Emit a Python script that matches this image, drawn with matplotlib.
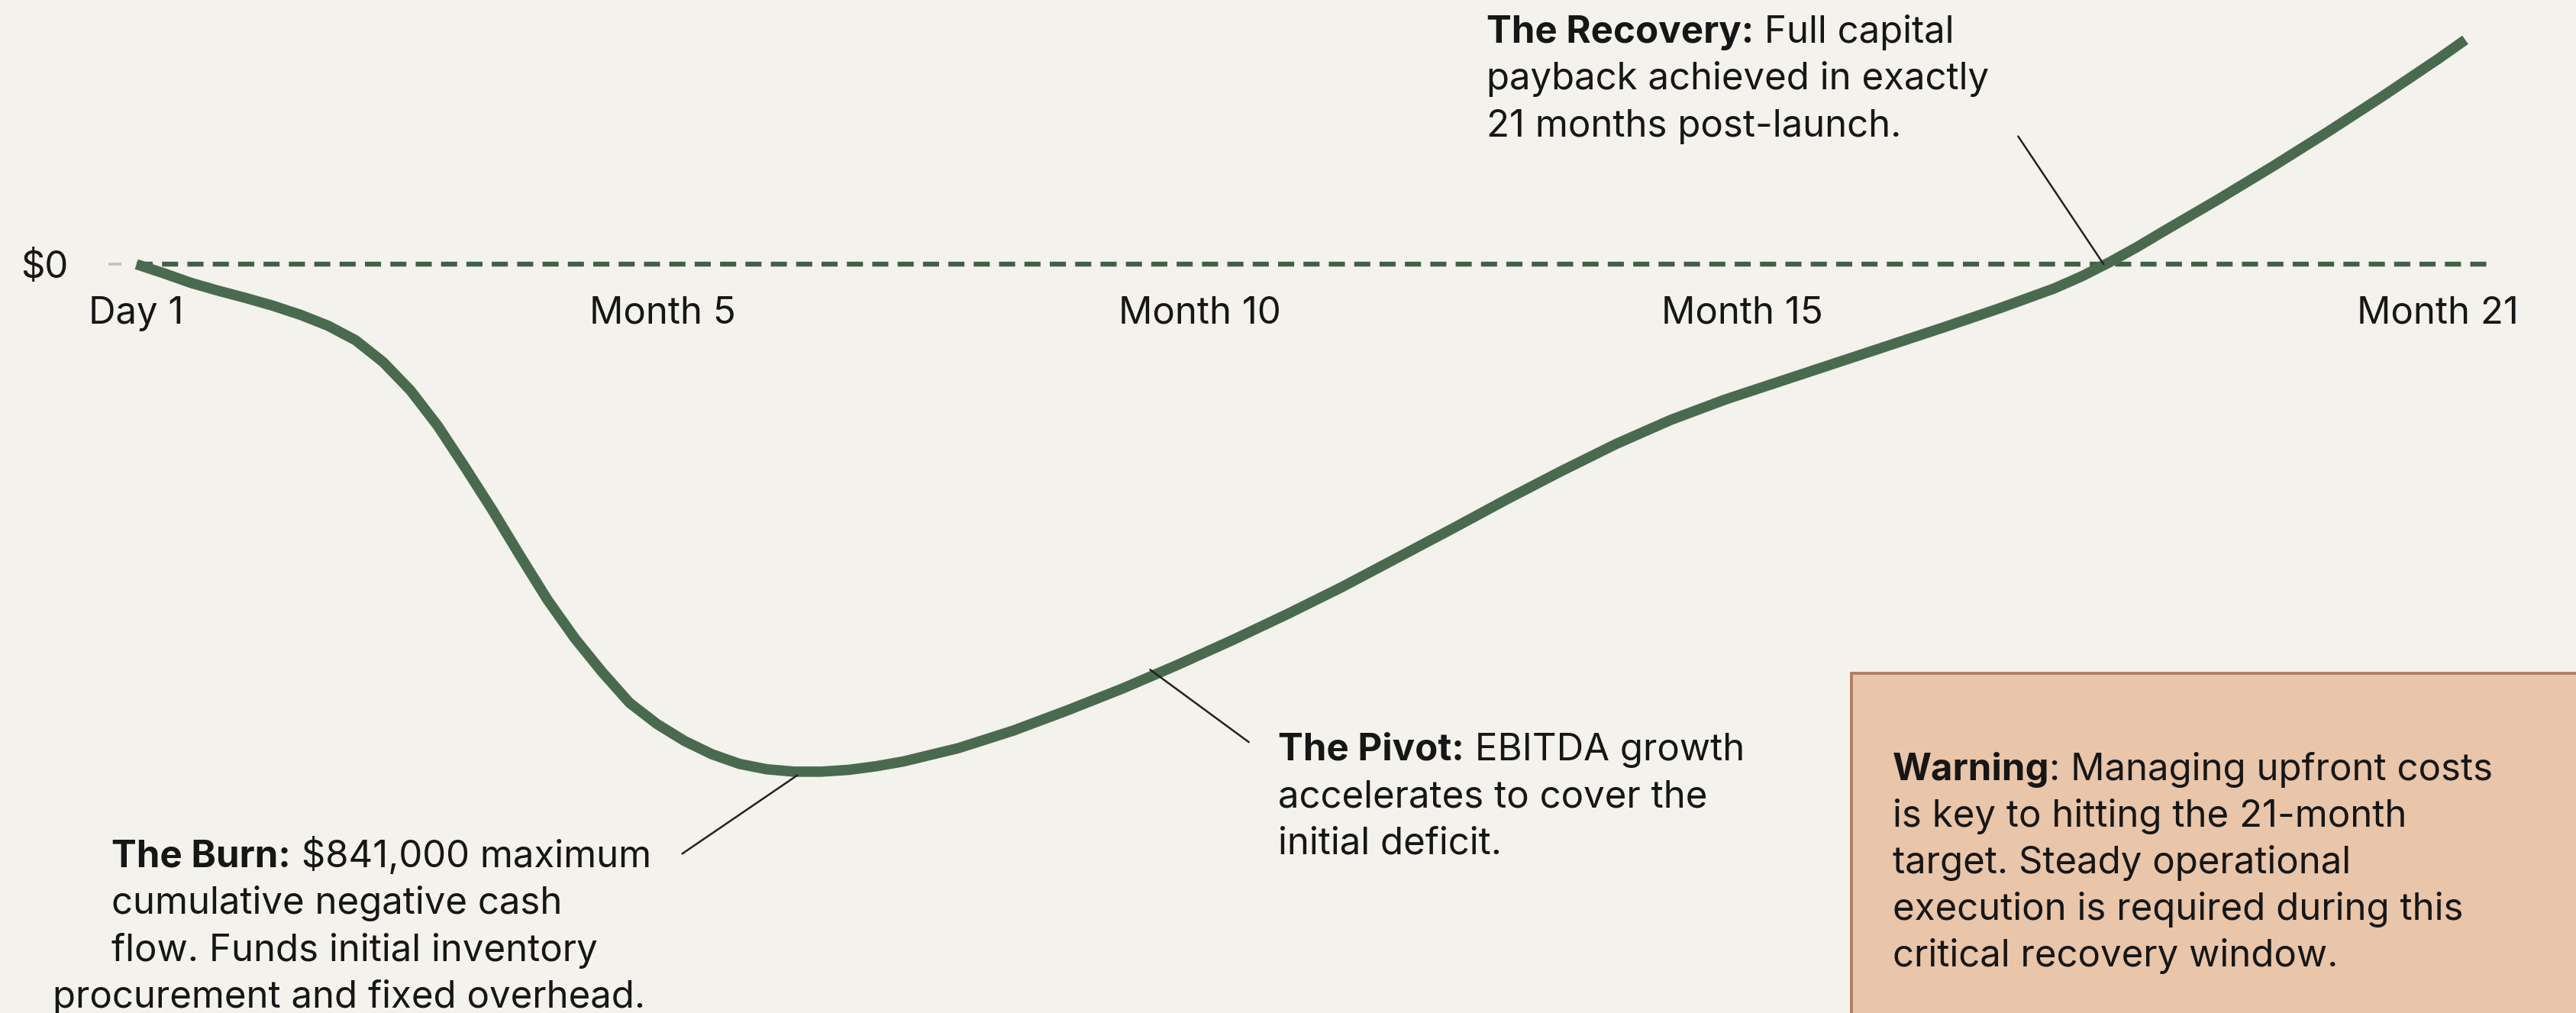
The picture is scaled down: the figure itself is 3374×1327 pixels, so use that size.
import matplotlib.pyplot as plt
from matplotlib.patches import Rectangle

# cumulative cash position (months since launch, $)
months = [0, 0.25, 0.5, 0.75, 1, 1.25, 1.5, 1.75, 2, 2.25, 2.5, 2.75, 3,
          3.25, 3.5, 3.75, 4, 4.25, 4.5, 4.75, 5, 5.25, 5.5, 5.75, 6, 6.25,
          6.5, 6.75, 7, 7.5, 8, 8.5, 9, 9.5, 10, 10.5, 11, 11.5, 12, 12.5,
          13, 13.5, 14, 14.5, 15, 15.5, 16, 16.5, 17, 17.5, 17.75, 18, 18.25,
          18.5, 19, 19.5, 20, 20.5, 21, 21.25]
cash = [0, -15000, -31000, -44000, -56000, -69000, -84000, -102000, -126000,
        -162000, -209000, -268000, -337000, -408000, -483000, -556000,
        -620000, -676000, -727000, -762000, -790000, -812000, -828000,
        -837000, -841000, -841000, -838000, -832000, -824000, -802000,
        -773000, -739000, -703000, -664000, -623000, -580000, -535000,
        -487000, -439000, -390000, -343000, -298000, -258000, -224000,
        -194000, -164000, -134000, -104000, -73000, -40000, -20000, 3000,
        28000, 55000, 108000, 163000, 220000, 279000, 340000, 372000]

tick_pos = [0, 4.8, 9.7, 14.65, 21]
tick_labels = ['Day 1', 'Month 5', 'Month 10', 'Month 15', 'Month 21']

# (bold lead, rest of first line, following lines)
recovery = ('The Recovery:', ' Full capital',
            ['payback achieved in exactly', '21 months post-launch.'])
pivot = ('The Pivot:', ' EBITDA growth',
         ['accelerates to cover the', 'initial deficit.'])
burn = ('The Burn:', ' \\$841,000 maximum',
        ['cumulative negative cash', 'flow. Funds initial inventory'])
burn_last = 'procurement and fixed overhead.'
warning = ('Warning', ': Managing upfront costs',
           ['is key to hitting the 21-month', 'target. Steady operational',
            'execution is required during this', 'critical recovery window.'])

BG = '#F4F2EC'
GREEN = '#4A6A4F'
INK = '#161616'
FS = 17.7
W, H = 1568, 617  # layout measured on the reference


def fx(px):
    return px / W


def fy(py):
    return 1 - py / H


def note(ax, x, y, spec, step=28.6):
    bold, rest, lines = spec
    t = ax.text(fx(x), fy(y), bold, transform=ax.transAxes, fontsize=FS,
                fontweight='bold', color=INK, va='baseline', ha='left')
    ax.annotate(rest, xy=(1, 0), xycoords=t, fontsize=FS, color=INK,
                va='bottom', ha='left')
    for i, line in enumerate(lines):
        ax.text(fx(x), fy(y + step * (i + 1)), line, transform=ax.transAxes,
                fontsize=FS, color=INK, va='baseline', ha='left')


plt.rcParams['font.family'] = ['Inter', 'DejaVu Sans']

fig = plt.figure(figsize=(16.87, 6.635), dpi=200, facecolor=BG)
ax = fig.add_axes([0, 0, 1, 1], facecolor=BG)

ax.plot([0, 21.47], [0, 0], color='#435F48', lw=2.3,
        linestyle=(0, (3.3, 1.9)), zorder=2)
ax.plot(months, cash, color=GREEN, lw=4.9, solid_capstyle='butt',
        solid_joinstyle='round', zorder=3)

ax.set_xlim(-1.245, 22.26)
ax.set_ylim(-1241000, 438000)

for s in ax.spines.values():
    s.set_visible(False)
ax.spines['bottom'].set_position(('data', 0))
ax.spines['left'].set_position(('axes', 0.0472))

ax.set_xticks(tick_pos)
ax.set_xticklabels(tick_labels)
ax.tick_params(axis='x', length=0, pad=15, labelsize=FS, labelcolor=INK)
ax.set_yticks([0])
ax.set_yticklabels(['\\$0'])
ax.tick_params(axis='y', length=6, width=1.4, color='#C4C4BC', pad=19,
               labelsize=FS, labelcolor=INK)

# leader lines
line_kw = dict(arrowstyle='-', lw=0.9, color='#222222', shrinkA=0, shrinkB=0)
ax.annotate('', xy=(17.95, 0), xytext=(17.17, 212000), arrowprops=line_kw)
ax.annotate('', xy=(9.25, -672000), xytext=(10.15, -792000),
            arrowprops=line_kw)
ax.annotate('', xy=(6.03, -847000), xytext=(4.98, -977000),
            arrowprops=line_kw)

note(ax, 905, 26, recovery)
note(ax, 778, 463, pivot)
note(ax, 68, 528, burn)
ax.text(fx(32), fy(528 + 28.6 * 3), burn_last, transform=ax.transAxes,
        fontsize=FS, color=INK, va='baseline', ha='left')

box = Rectangle((fx(1127), -0.1), 0.4, fy(410) + 0.1, transform=ax.transAxes,
                facecolor='#E9C5A9', edgecolor='#B07E66', lw=1.4, zorder=1)
ax.add_patch(box)
note(ax, 1152, 475, warning, step=28.4)

fig.savefig('out.png', dpi=200, facecolor=BG)
